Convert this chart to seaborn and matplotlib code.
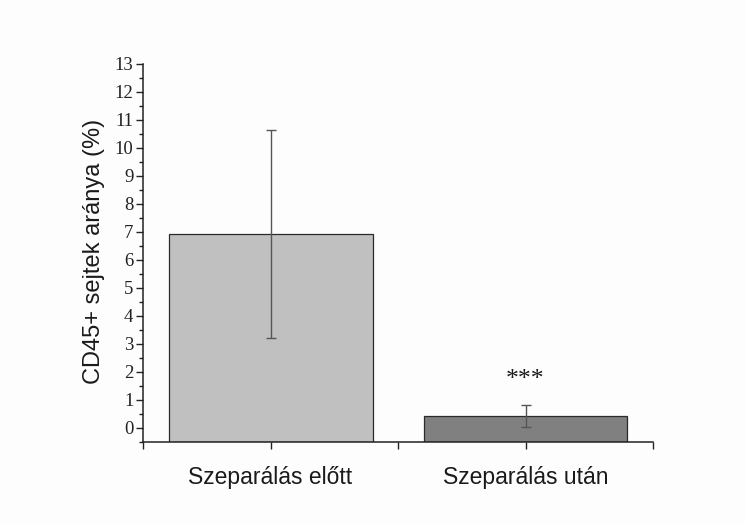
import matplotlib
matplotlib.use("Agg")
import matplotlib.pyplot as plt
import seaborn as sns
import pandas as pd
from matplotlib.ticker import MultipleLocator

# Data
categories = ["Szeparálás előtt", "Szeparálás után"]
means = [6.93, 0.43]
sds = [3.71, 0.39]
bar_colors = ["#c0c0c0", "#808080"]
significance = ["", "***"]

df = pd.DataFrame({"group": categories, "value": means})

Y_MIN, Y_MAX = -0.5, 13

sns.set_style("white")
fig = plt.figure(figsize=(7.45, 5.24), dpi=100)
fig.patch.set_facecolor("#fdfdfd")
ax = fig.add_axes([0.192, 0.1565, 0.6845, 0.7215])
ax.set_facecolor("#fdfdfd")

sns.barplot(data=df, x="group", y="value", hue="group", palette=bar_colors,
            order=categories, width=0.8, edgecolor="#2a2a2a", linewidth=0.9,
            errorbar=None, legend=False, ax=ax)

# bars start from the bottom of the axis, as in Origin-style plots
for patch, val in zip(ax.patches, means):
    patch.set_y(Y_MIN)
    patch.set_height(val - Y_MIN)

xpos = list(range(len(categories)))
ax.errorbar(xpos, means, yerr=sds, fmt="none", ecolor="#555555",
            elinewidth=1.0, capsize=3.5, capthick=1.0)

for x, m, s, lab in zip(xpos, means, sds, significance):
    if lab:
        ax.text(x, m + s + 0.5, lab, ha="center", va="bottom",
                fontsize=18.5, family="Liberation Serif", color="#1a1a1a")

ax.set_xlim(-0.5, 1.5)
ax.set_ylim(Y_MIN, Y_MAX)
ax.yaxis.set_major_locator(MultipleLocator(1))
ax.yaxis.set_minor_locator(MultipleLocator(0.5))
ax.set_xticks(xpos)
ax.set_xticks([-0.5, 0.5, 1.5], minor=True)
ax.set_xticklabels(categories, fontsize=16.5, family="Liberation Sans")

for lbl in ax.get_yticklabels():
    lbl.set_family("Liberation Serif")
    lbl.set_fontsize(13.5)

ax.tick_params(axis="y", which="major", direction="out", length=5, width=1,
               color="#222222", labelcolor="#222222", pad=2, left=True)
ax.tick_params(axis="y", which="minor", direction="out", length=3, width=1,
               color="#222222", left=True)
ax.tick_params(axis="x", which="both", direction="out", length=5, width=1,
               color="#222222", labelcolor="#1a1a1a", pad=12, bottom=True)

for side in ["top", "right"]:
    ax.spines[side].set_visible(False)
for side in ["left", "bottom"]:
    ax.spines[side].set_color("#222222")
    ax.spines[side].set_linewidth(1.1)

ax.set_xlabel("")
ax.set_ylabel("CD45+ sejtek aránya (%)", fontsize=17,
              family="Liberation Sans", color="#1a1a1a")
ax.yaxis.set_label_coords(-0.075, 0.505)

fig.savefig("out.png", dpi=100, facecolor=fig.get_facecolor())
